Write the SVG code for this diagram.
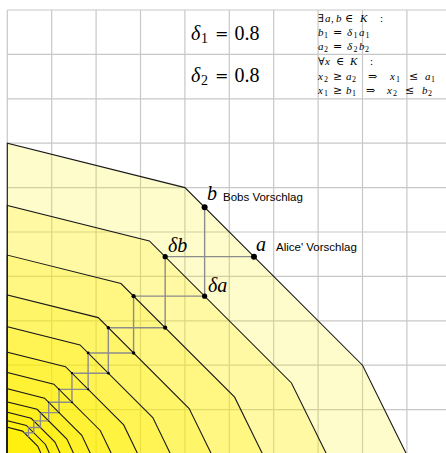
<svg xmlns="http://www.w3.org/2000/svg" width="446" height="453" viewBox="0 0 446 453">
<style>
.grid line{stroke:#c8c8c8;stroke-width:1.2}
.reg polygon{fill:#ffee00;fill-opacity:0.2;stroke:#1a1a1a;stroke-width:1.1;stroke-linejoin:miter}
.stairs path{fill:none;stroke:#8c8c8c;stroke-width:1.4}
.pt circle{fill:#000}
.m{font-family:"Liberation Serif","DejaVu Serif",serif;fill:#000}
.i{font-style:italic}
.u{font-size:8px}
.y{font-family:"DejaVu Serif",serif}
.s{font-family:"Liberation Sans",Arial,sans-serif;font-size:11.5px;fill:#000}
</style>
<rect width="446" height="453" fill="#fff"/>
<g class="grid" id="grid">
<line x1="7.3" y1="10" x2="7.3" y2="453"/>
<line x1="51.7" y1="10" x2="51.7" y2="453"/>
<line x1="96.1" y1="10" x2="96.1" y2="453"/>
<line x1="140.5" y1="10" x2="140.5" y2="453"/>
<line x1="184.9" y1="10" x2="184.9" y2="453"/>
<line x1="229.3" y1="10" x2="229.3" y2="453"/>
<line x1="273.7" y1="10" x2="273.7" y2="453"/>
<line x1="318.1" y1="10" x2="318.1" y2="453"/>
<line x1="362.5" y1="10" x2="362.5" y2="453"/>
<line x1="406.9" y1="10" x2="406.9" y2="453"/>
<line x1="7.3" y1="10" x2="446" y2="10"/>
<line x1="7.3" y1="54.4" x2="446" y2="54.4"/>
<line x1="7.3" y1="98.8" x2="446" y2="98.8"/>
<line x1="7.3" y1="143.2" x2="446" y2="143.2"/>
<line x1="7.3" y1="187.6" x2="446" y2="187.6"/>
<line x1="7.3" y1="232" x2="446" y2="232"/>
<line x1="7.3" y1="276.4" x2="446" y2="276.4"/>
<line x1="7.3" y1="320.8" x2="446" y2="320.8"/>
<line x1="7.3" y1="365.2" x2="446" y2="365.2"/>
<line x1="7.3" y1="409.6" x2="446" y2="409.6"/>
</g>
<g class="reg" id="regions">
<g id="K0"><polygon points="7.3,455 7.3,143.2 184.9,187.6 362.5,365.2 406.9,455"/></g>
<g id="K1"><polygon points="7.3,455 7.3,205.36 149.38,240.88 291.46,382.96 326.98,455"/></g>
<g id="K2"><polygon points="7.3,455 7.3,255.09 120.96,283.5 234.63,397.17 263.04,455"/></g>
<g id="K3"><polygon points="7.3,455 7.3,294.87 98.23,317.6 189.16,408.53 211.9,455"/></g>
<g id="K4"><polygon points="7.3,455 7.3,326.7 80.04,344.88 152.79,417.63 170.98,455"/></g>
<g id="K5"><polygon points="7.3,455 7.3,352.16 65.5,366.71 123.69,424.9 138.24,455"/></g>
<g id="K6"><polygon points="7.3,455 7.3,372.53 53.86,384.17 100.41,430.72 112.05,455"/></g>
<g id="K7"><polygon points="7.3,455 7.3,388.82 44.54,398.13 81.79,435.38 91.1,455"/></g>
<g id="K8"><polygon points="7.3,455 7.3,401.86 37.1,409.31 66.89,439.1 74.34,455"/></g>
<g id="K9"><polygon points="7.3,455 7.3,412.29 31.14,418.25 54.97,442.08 60.93,455"/></g>
<g id="K10"><polygon points="7.3,455 7.3,420.63 26.37,425.4 45.44,444.47 50.2,455"/></g>
<g id="K11"><polygon points="7.3,455 7.3,427.3 22.56,431.12 37.81,446.37 41.63,455"/></g>
</g>
<g class="stairs" id="connectors">
<path d="M204.63,207.33V296.13M165.17,256.67H253.97"/>
<path d="M165.17,256.67V327.71M133.59,296.13H204.63"/>
<path d="M133.59,296.13V352.97M108.33,327.71H165.17"/>
<path d="M108.33,327.71V373.18M88.13,352.97H133.59"/>
<path d="M88.13,352.97V389.34M71.96,373.18H108.33"/>
<path d="M71.96,373.18V402.27M59.03,389.34H88.13"/>
<path d="M59.03,389.34V412.61M48.68,402.27H71.96"/>
<path d="M48.68,402.27V420.89M40.41,412.61H59.03"/>
<path d="M40.41,412.61V427.51M33.79,420.89H48.68"/>
<path d="M33.79,420.89V432.81M28.49,427.51H40.41"/>
<path d="M28.49,427.51V437.05M24.25,432.81H33.79"/>
</g>
<g class="pt" id="points">
<g id="b"><circle cx="204.63" cy="207.33" r="3"/></g>
<g id="a"><circle cx="253.97" cy="256.67" r="3"/></g>
<g id="db"><circle cx="165.17" cy="256.67" r="2.6"/></g>
<g id="da"><circle cx="204.63" cy="296.13" r="2.6"/></g>
<circle cx="133.59" cy="296.13" r="2.1"/><circle cx="165.17" cy="327.71" r="2.1"/>
<circle cx="108.33" cy="327.71" r="1.7"/><circle cx="133.59" cy="352.97" r="1.7"/>
<circle cx="88.13" cy="352.97" r="1.4"/><circle cx="108.33" cy="373.18" r="1.4"/>
<circle cx="71.96" cy="373.18" r="1.15"/><circle cx="88.13" cy="389.34" r="1.15"/>
<circle cx="59.03" cy="389.34" r="0.95"/><circle cx="71.96" cy="402.27" r="0.95"/>
<circle cx="48.68" cy="402.27" r="0.75"/><circle cx="59.03" cy="412.61" r="0.75"/>
<circle cx="40.41" cy="412.61" r="0.6"/><circle cx="48.68" cy="420.89" r="0.6"/>
</g>
<g id="labels">
<text class="m i" x="207" y="200" font-size="20">b</text>
<text class="s" x="223" y="201">Bobs Vorschlag</text>
<text class="m i" x="256" y="250.5" font-size="20">a</text>
<text class="s" x="276" y="251">Alice' Vorschlag</text>
<text class="m i" x="168" y="252" font-size="20">δb</text>
<text class="m i" x="208" y="292" font-size="20">δa</text>
</g>
<g id="params">
<text class="m" font-size="20" y="40"><tspan class="i" x="191">δ</tspan><tspan x="201" y="43" font-size="14">1</tspan><tspan class="y" x="215" y="39" font-size="16">=</tspan><tspan x="234.5" y="40">0.8</tspan></text>
<text class="m" font-size="20" y="82"><tspan class="i" x="191">δ</tspan><tspan x="201" y="85" font-size="14">2</tspan><tspan class="y" x="215" y="81" font-size="16">=</tspan><tspan x="234.5" y="82">0.8</tspan></text>
</g>
<g id="conditions" class="m" font-size="11">
<text y="21.5"><tspan class="y" x="318">∃</tspan><tspan class="i" x="325">a</tspan><tspan x="331">,</tspan><tspan class="i" x="336">b</tspan><tspan class="y" x="345">∈</tspan><tspan class="i" x="360">K</tspan><tspan x="380">:</tspan></text>
<text y="36"><tspan class="i" x="318">b</tspan><tspan class="u" x="324" y="38">1</tspan><tspan class="y" x="333" y="36">=</tspan><tspan class="i" x="347">δ</tspan><tspan class="u" x="353.5" y="38">1</tspan><tspan class="i" x="359" y="36">a</tspan><tspan class="u" x="365.5" y="38">1</tspan></text>
<text y="50"><tspan class="i" x="318">a</tspan><tspan class="u" x="324" y="52">2</tspan><tspan class="y" x="333" y="50">=</tspan><tspan class="i" x="347">δ</tspan><tspan class="u" x="353.5" y="52">2</tspan><tspan class="i" x="359" y="50">b</tspan><tspan class="u" x="365" y="52">2</tspan></text>
<text y="65"><tspan class="y" x="318">∀</tspan><tspan class="i" x="325">x</tspan><tspan class="y" x="336">∈</tspan><tspan class="i" x="350">K</tspan><tspan x="370">:</tspan></text>
<text y="80"><tspan class="i" x="318">x</tspan><tspan class="u" x="324" y="82">2</tspan><tspan class="y" x="333" y="80">≥</tspan><tspan class="i" x="346">a</tspan><tspan class="u" x="352" y="82">2</tspan><tspan class="y" x="368" y="80">⇒</tspan><tspan class="i" x="390">x</tspan><tspan class="u" x="396" y="82">1</tspan><tspan class="y" x="409" y="80">≤</tspan><tspan class="i" x="425">a</tspan><tspan class="u" x="431" y="82">1</tspan></text>
<text y="94"><tspan class="i" x="318">x</tspan><tspan class="u" x="324" y="96">1</tspan><tspan class="y" x="333" y="94">≥</tspan><tspan class="i" x="346">b</tspan><tspan class="u" x="352" y="96">1</tspan><tspan class="y" x="366" y="94">⇒</tspan><tspan class="i" x="387">x</tspan><tspan class="u" x="393" y="96">2</tspan><tspan class="y" x="405" y="94">≤</tspan><tspan class="i" x="422">b</tspan><tspan class="u" x="428" y="96">2</tspan></text>
</g>
</svg>
